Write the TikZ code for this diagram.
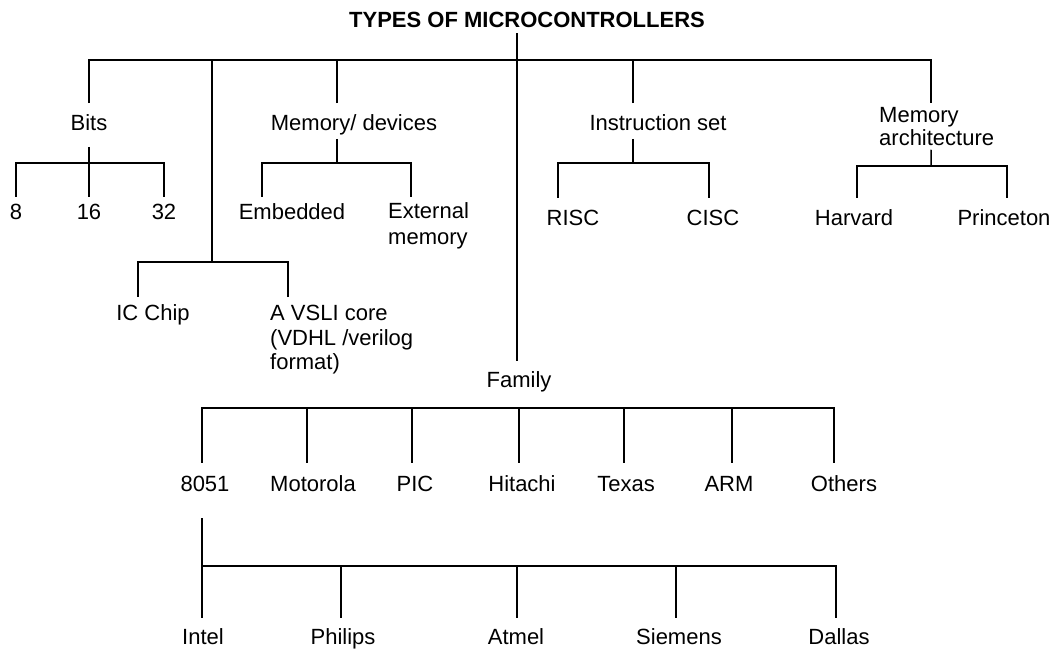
\documentclass[tikz,border=0pt]{standalone}
\usepackage{fontspec}
\setmainfont{Liberation Sans}

\tikzset{
  lbl/.style={font=\fontsize{22}{24}\selectfont, inner xsep=0pt, inner ysep=#1,
    text height=16pt, text depth=4.5pt},
  lbl/.default=8pt,
  multi/.style={font=\fontsize{22}{24}\selectfont, inner xsep=0pt, inner ysep=#1,
    align=left, anchor=north west},
  multi/.default=5pt,
  link/.style={line width=1.5pt},
}

\begin{document}
\begin{tikzpicture}[x=1pt, y=-1pt]
    \useasboundingbox (0,0) rectangle (1053,650);
    \node[lbl=0.75pt, font=\fontsize{22}{24}\selectfont\bfseries] (title) at (527,22) {TYPES OF MICROCONTROLLERS};
    \node[lbl=10.75pt] (fam) at (519,382) {Family};
    \coordinate (top) at (517,60);
    \draw[link] ([xshift=-10pt]title.south) -- ([xshift=-2pt]fam.north);

    \node[lbl=11.5pt] (bits) at (89,125) {Bits};
    \node[lbl=11.5pt] (memdev) at (354,125) {Memory/ devices};
    \node[lbl=11.5pt] (instr) at (658,125) {Instruction set};
    \node[multi=4pt, font=\fontsize{22}{23}\selectfont] (memarch) at (879,103) {Memory\\architecture};
    \coordinate (chip) at (212,262);
    \draw[link] (bits.north) |- (top);
    \draw[link] ([xshift=-17pt]memdev.north) |- (top);
    \draw[link] ([xshift=-25pt]instr.north) |- (top);
    \draw[link] ([xshift=-5.5pt]memarch.north) |- (top);
    \draw[link] (chip) |- (top);

    \coordinate (bits-j) at (89,163);
    \node[lbl=6.75pt] (b8) at (16,214) {8};
    \node[lbl=6.75pt] (b16) at (89,214) {16};
    \node[lbl=6.75pt] (b32) at (164,214) {32};
    \draw[link] (bits.south) -- (bits-j);
    \foreach \n in {b8,b16,b32}
        \draw[link] (\n.north) |- (bits-j);

    \coordinate (md-j) at (337,163);
    \node[lbl=6.75pt] (emb) at (292,214) {Embedded};
    \node[multi=5pt, font=\fontsize{22}{26}\selectfont] (ext) at (388,197) {External\\memory};
    \draw[link] ([xshift=-17pt,yshift=8pt]memdev.south) -- (md-j);
    \draw[link] ([xshift=-30pt]emb.north) |- (md-j);
    \draw[link] ([xshift=23pt]ext.north west) |- (md-j);

    \coordinate (is-j) at (633,163);
    \node[lbl=11.75pt] (risc) at (573,220) {RISC};
    \node[lbl=11.75pt] (cisc) at (713,220) {CISC};
    \draw[link] ([xshift=-25pt,yshift=8pt]instr.south) -- (is-j);
    \draw[link] ([xshift=-15pt]risc.north) |- (is-j);
    \draw[link] ([xshift=-4pt]cisc.north) |- (is-j);

    \coordinate (ma-j) at (931,166);
    \node[lbl=11.75pt] (harv) at (854,220) {Harvard};
    \node[lbl=11.75pt] (prin) at (1004,220) {Princeton};
    \draw[link] ([xshift=-5.5pt]memarch.south) -- (ma-j);
    \draw[link] ([xshift=3pt]harv.north) |- (ma-j);
    \draw[link] ([xshift=3pt]prin.north) |- (ma-j);

    \node[lbl=7.75pt] (icchip) at (153,315) {IC Chip};
    \node[multi=8pt, font=\fontsize{22}{24.5}\selectfont] (vsli) at (270,297) {A VSLI core\\(VDHL /verilog\\format)};
    \draw[link] ([xshift=-15pt]icchip.north) |- (chip);
    \draw[link] ([xshift=18pt]vsli.north west) |- (chip);

    \coordinate (fam-j) at (519,408);
    \foreach \n/\x/\s/\t in {f1/205/-3/8051, f2/313/-6/Motorola, f3/415/-3/PIC,
        f4/522/-3/Hitachi, f5/626/-2/Texas, f6/729/3/ARM, f7/844/-10/Others} {
        \node[lbl=12.75pt] (\n) at (\x,486) {\t};
        \draw[link] ([xshift=\s pt]\n.north) |- (fam-j);
    }

    \coordinate (v-j) at (517,566);
    \draw[link] ([xshift=-3pt,yshift=-9pt]f1.south) |- (v-j);
    \foreach \n/\x/\s/\t in {v1/203/-1/Intel, v2/343/-2/Philips, v3/516/1/Atmel,
        v4/679/-3/Siemens, v5/839/-3/Dallas} {
        \node[lbl=10.75pt] (\n) at (\x,639) {\t};
        \draw[link] ([xshift=\s pt]\n.north) |- (v-j);
    }
\end{tikzpicture}
\end{document}
